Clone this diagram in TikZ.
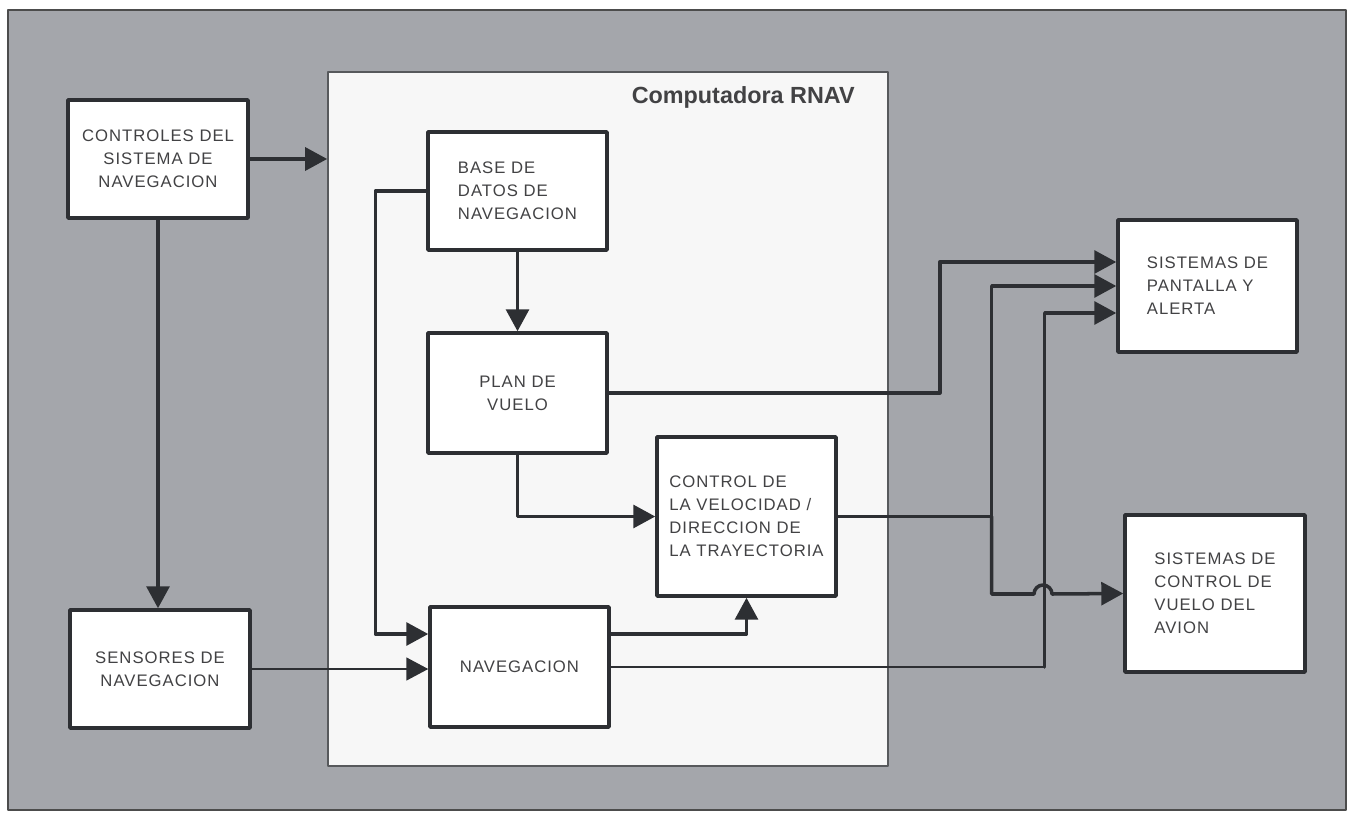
\documentclass[tikz,border=0pt]{standalone}
\usepackage{fontspec}
\setmainfont{Liberation Sans}
\newfontfamily\cajafont[LetterSpace=6]{Liberation Sans}
\usetikzlibrary{arrows.meta}
\definecolor{fondo}{RGB}{164,166,171}
\definecolor{tinta}{RGB}{45,47,51}
\definecolor{letra}{RGB}{66,66,68}
\begin{document}
\begin{tikzpicture}[x=0.02cm,y=-0.02cm,line cap=round,line join=round,>={Triangle[length=12.5pt,width=13pt]},
        caja/.style={draw=tinta,line width=2pt,fill=white,text=letra,inner sep=2pt,
                     font=\cajafont\fontsize{9.5}{13}\selectfont},
        grueso/.style={draw=tinta,line width=2pt},
        fino/.style={draw=tinta,line width=1.2pt}]
                \useasboundingbox (0,0) rectangle (1352,814);
                \draw[fill=fondo,draw=gray!60!black,line width=1pt] (8,10) rectangle (1346,810);
                % Computadora RNAV
                \node[draw=tinta!80,line width=1pt,fill=white!97!black,inner sep=0pt,
                      minimum width=11.2cm,minimum height=13.88cm] (rnav) at (608,419) {};
                \node[anchor=north east,font=\bfseries\fontsize{13.3}{15}\selectfont,text=letra]
                      at ([xshift=-0.56cm,yshift=-0.18cm]rnav.north east) {Computadora RNAV};
                % bloques
                \node[caja,align=center,minimum width=3.6cm,minimum height=2.36cm] (ctrl) at (158,159) {CONTROLES DEL\\SISTEMA DE\\NAVEGACION};
                \node[caja,align=center,minimum width=3.6cm,minimum height=2.36cm] (sens) at (160,669) {SENSORES DE\\NAVEGACION};
                \node[caja,align=left,minimum width=3.58cm,minimum height=2.36cm] (base) at (517.5,191) {BASE DE\\DATOS DE\\NAVEGACION};
                \node[caja,align=center,minimum width=3.58cm,minimum height=2.4cm] (plan) at (517.5,393) {PLAN DE\\VUELO};
                \node[caja,align=left,minimum width=3.58cm,minimum height=3.18cm] (vel) at (746.5,516.5) {CONTROL DE\\LA VELOCIDAD /\\DIRECCION DE\\LA TRAYECTORIA};
                \node[caja,align=center,minimum width=3.58cm,minimum height=2.4cm] (nav) at (519.5,667) {NAVEGACION};
                \node[caja,align=left,minimum width=3.58cm,minimum height=2.64cm] (disp) at (1207.5,286) {SISTEMAS DE\\PANTALLA Y\\ALERTA};
                \node[caja,align=left,minimum width=3.6cm,minimum height=3.14cm] (fcs) at (1215,593.5) {SISTEMAS DE\\CONTROL DE\\VUELO DEL\\AVION};
                % conexiones
                \draw[grueso,->] (ctrl.east) -- (ctrl.east -| rnav.west);
                \draw[grueso,->] (ctrl.south) -- (ctrl.south |- sens.north);
                \draw[grueso,->] (base.west) -- ++(-51,0) |- ([yshift=0.66cm]nav.west);
                \draw[fino,->] (sens.east) -- (sens.east -| nav.west);
                \draw[grueso,->] (base) -- (plan);
                \draw[grueso,->] (plan.south) |- (vel.west);
                \draw[grueso,->] ([yshift=0.66cm]nav.east) -| (vel.south);
                \draw[grueso,->] (plan.east) -- ++(331,0) |- ([yshift=0.48cm]disp.west);
                \coordinate (cruce) at ([xshift=3.08cm]vel.east);
                \coordinate (esq) at ([xshift=8.68cm]nav.east);
                \draw[fino] (nav.east) -- (esq);
                \draw[grueso,->] (esq) |- ([yshift=-0.54cm]disp.west);
                \draw[fino] (vel.east) -- (cruce);
                \draw[grueso,->] (cruce) |- (disp.west);
                \draw[grueso,->] (cruce) |- (1034,594) arc[start angle=180,end angle=0,radius=0.18cm] -- (fcs.west);
\end{tikzpicture}
\end{document}
